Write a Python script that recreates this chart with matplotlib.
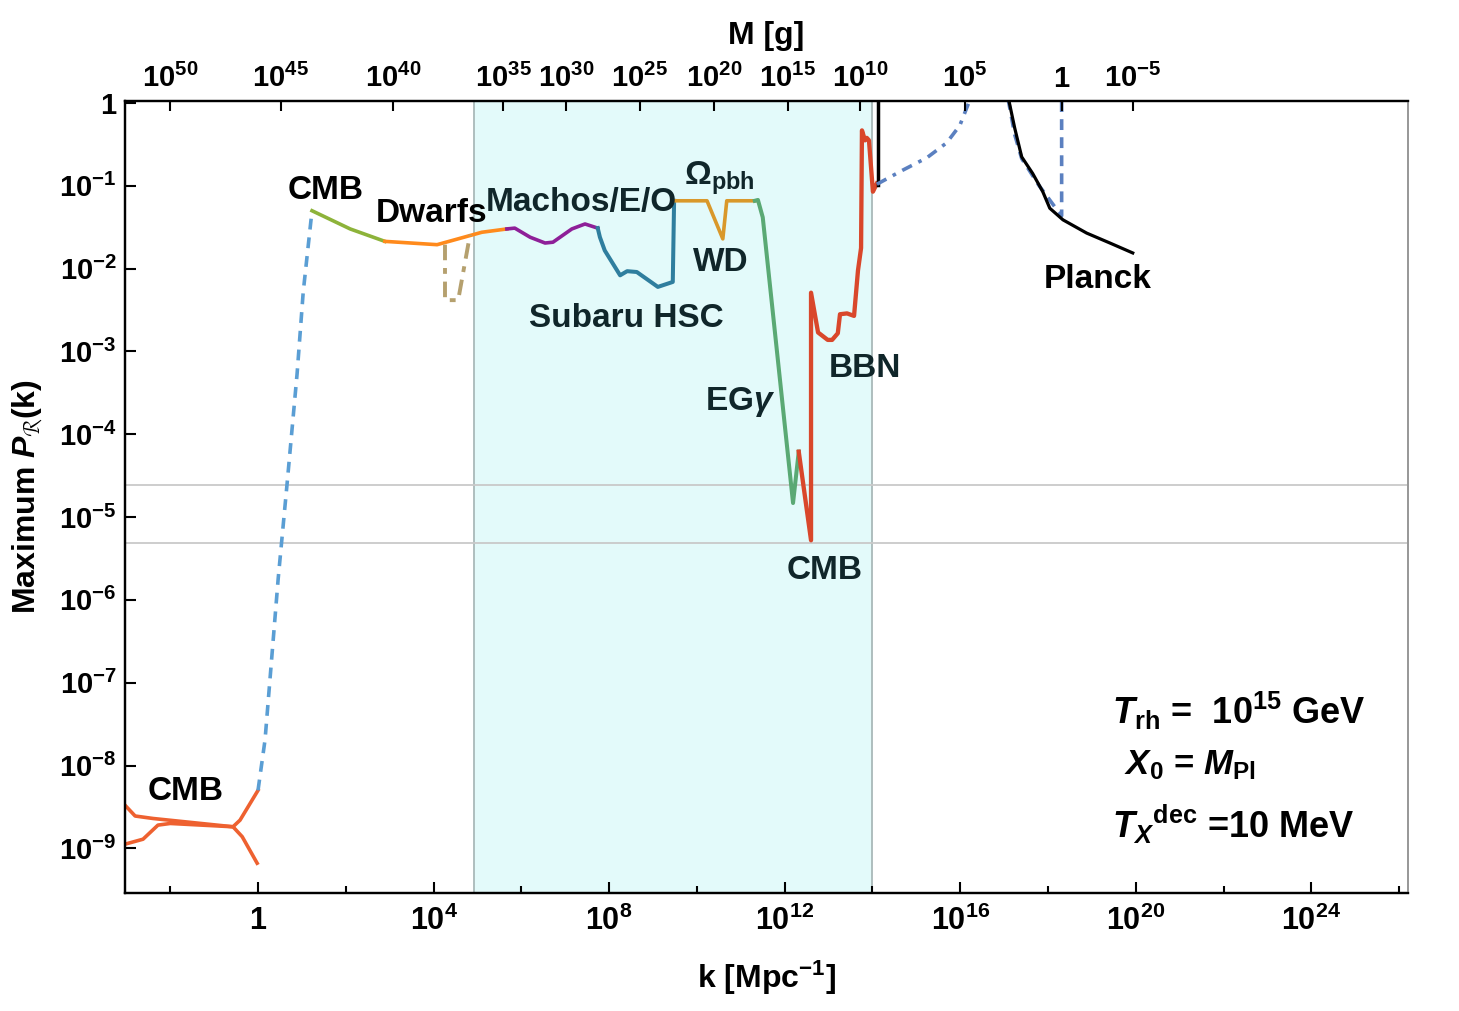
import numpy as np
import matplotlib
matplotlib.use("Agg")
import matplotlib.pyplot as plt
from matplotlib.ticker import FixedLocator, NullLocator, NullFormatter

plt.rcParams['font.family'] = ['Liberation Sans', 'DejaVu Sans']
plt.rcParams['font.weight'] = 'bold'
plt.rcParams['axes.labelweight'] = 'bold'
plt.rcParams['mathtext.fontset'] = 'custom'
plt.rcParams['mathtext.rm'] = 'Liberation Sans'
plt.rcParams['mathtext.bf'] = 'Liberation Sans:bold'
plt.rcParams['mathtext.it'] = 'Liberation Sans:italic'
plt.rcParams['mathtext.bfit'] = 'Liberation Sans:italic:bold'
plt.rcParams['mathtext.default'] = 'bf'

# all values are log10(k / Mpc^-1) and log10(P_R)
cmb_lo_a_lk = [-3.03, -2.80, -2.39, -0.57, -0.41, 0.0]
cmb_lo_a_lp = [-8.48, -8.61, -8.64, -8.74, -8.66, -8.30]
cmb_lo_b_lk = [-3.03, -2.62, -2.28, -2.00, -0.57, -0.36, -0.02]
cmb_lo_b_lp = [-8.95, -8.89, -8.72, -8.70, -8.74, -8.86, -9.18]

rise_lk = [0.0, 0.16, 0.46, 0.66, 0.89, 1.03, 1.23]
rise_lp = [-8.30, -7.69, -5.74, -4.61, -3.27, -2.28, -1.30]

cmb_hi_lk = [1.23, 2.10, 2.89]
cmb_hi_lp = [-1.30, -1.52, -1.67]

dwarf_lk = [2.89, 4.08, 5.10, 5.67]
dwarf_lp = [-1.67, -1.71, -1.56, -1.52]
dwarf_alt_lk = [4.26, 4.26, 4.56, 4.83]
dwarf_alt_lp = [-1.71, -2.38, -2.38, -1.59]

macho_lk = [5.67, 5.85, 6.20, 6.54, 6.72, 7.15, 7.45, 7.74]
macho_lp = [-1.52, -1.51, -1.62, -1.69, -1.68, -1.52, -1.46, -1.51]

hsc_lk = [7.74, 7.79, 7.90, 8.25, 8.41, 8.63, 9.11, 9.45, 9.48]
hsc_lp = [-1.51, -1.62, -1.78, -2.08, -2.03, -2.04, -2.22, -2.16, -1.18]

omega_lk = [9.48, 10.23, 10.59, 10.68, 11.32]
omega_lp = [-1.18, -1.18, -1.64, -1.18, -1.18]

egam_lk = [11.32, 11.39, 11.50, 12.19, 12.32]
egam_lp = [-1.18, -1.17, -1.38, -4.83, -4.21]

bbn_lk = [12.32, 12.60, 12.60, 12.76, 12.98, 13.08, 13.21, 13.26, 13.42, 13.58,
          13.67, 13.74, 13.76, 13.83, 13.87, 13.92, 14.01, 14.10]
bbn_lp = [-4.21, -5.28, -2.29, -2.77, -2.86, -2.86, -2.78, -2.55, -2.54, -2.57,
          -2.02, -1.75, -0.33, -0.45, -0.42, -0.45, -1.07, -0.97]

wall_lk = [14.12, 14.12]
wall_lp = [0.1, -0.99]

dd_lk = [14.10, 14.69, 15.24, 15.69, 15.99, 16.22]
dd_lp = [-0.98, -0.81, -0.66, -0.48, -0.27, 0.04]

dash_r_lk = [17.09, 17.24, 17.40, 17.80, 18.15, 18.31, 18.31]
dash_r_lp = [0.05, -0.38, -0.67, -1.00, -1.25, -1.36, 0.05]

planck_lk = [17.10, 17.24, 17.40, 17.65, 17.88, 18.04, 18.34, 18.88, 19.41, 19.93]
planck_lp = [0.05, -0.30, -0.65, -0.85, -1.07, -1.27, -1.41, -1.57, -1.69, -1.81]

band_lk = [4.92, 13.99]
hline_lp = [-4.61, -5.31]

# top axis: PBH mass labels and the k where they sit
mass_exp = [50, 45, 40, 35, 30, 25, 20, 15, 10, 5, 0, -5]
mass_lk = [-2.00, 0.52, 3.08, 5.58, 7.02, 8.70, 10.39, 12.07, 13.71, 16.10, 18.31, 19.93]


def P(a):
    return 10.0 ** np.array(a)


fig = plt.figure(figsize=(14.59, 10.11), dpi=100)
ax = fig.add_axes([0.0857, 0.1167, 0.8793, 0.7833])
ax.set_xscale('log')
ax.set_yscale('log')
xlim = (10 ** -3.03, 10 ** 26.2)
ax.set_xlim(*xlim)
ax.set_ylim(10 ** -9.54, 10 ** 0.024)

ax.axvspan(P(band_lk[0]), P(band_lk[1]), color='#e3fafa', zorder=0, lw=0)
for b in band_lk:
    ax.axvline(P(b), color='#a9b9b9', lw=1.3, zorder=1)
for h in hline_lp:
    ax.axhline(P(h), color='#c9c9c9', lw=1.3, zorder=1)

lw = 2.6
ax.plot(P(cmb_lo_a_lk), P(cmb_lo_a_lp), color='#ee6130', lw=lw)
ax.plot(P(cmb_lo_b_lk), P(cmb_lo_b_lp), color='#ee6130', lw=lw)
ax.plot(P(rise_lk), P(rise_lp), color='#5a9ed4', lw=lw, ls=(0, (3, 2.2)))
ax.plot(P(cmb_hi_lk), P(cmb_hi_lp), color='#8db33a', lw=lw)
ax.plot(P(dwarf_lk), P(dwarf_lp), color='#ff8a1c', lw=lw)
ax.plot(P(dwarf_alt_lk), P(dwarf_alt_lp), color='#b5a06e', lw=2.8, ls=(0, (4, 2, 1.5, 2)))
ax.plot(P(macho_lk), P(macho_lp), color='#8e1f98', lw=lw)
ax.plot(P(hsc_lk), P(hsc_lp), color='#2f7e9e', lw=2.9)
ax.plot(P(omega_lk), P(omega_lp), color='#d9982a', lw=lw)
ax.plot(P(egam_lk), P(egam_lp), color='#5aa974', lw=2.9)
ax.plot(P(bbn_lk), P(bbn_lp), color='#d9472b', lw=3.1)
ax.plot(P(wall_lk), P(wall_lp), color='black', lw=2.5)
ax.plot(P(dd_lk), P(dd_lp), color='#5b80c0', lw=lw, ls=(0, (3, 2, 1, 2)))
ax.plot(P(dash_r_lk), P(dash_r_lp), color='#5b80c0', lw=lw, ls=(0, (3, 2)))
ax.plot(P(planck_lk), P(planck_lp), color='black', lw=2.3)

# annotations
fs = 24
dark = '#10262a'
ax.text(P(1.53), P(-1.05), 'CMB', fontsize=fs, ha='center', va='center')
ax.text(P(3.96), P(-1.33), 'Dwarfs', fontsize=fs, ha='center', va='center')
ax.text(P(7.36), P(-1.20), 'Machos/E/O', fontsize=fs, ha='center', va='center', color=dark)
ax.text(P(10.52), P(-0.91), r'$\mathrm{\Omega}_{\mathbf{pbh}}$', fontsize=fs, ha='center', va='center',
        color=dark)
ax.text(P(10.55), P(-1.93), 'WD', fontsize=fs, ha='center', va='center', color=dark)
ax.text(P(8.38), P(-2.60), 'Subaru HSC', fontsize=fs, ha='center', va='center', color=dark)
ax.text(P(10.98), P(-3.61), r'EG$\mathit{\gamma}$', fontsize=fs, ha='center', va='center', color=dark)
ax.text(P(13.83), P(-3.21), 'BBN', fontsize=fs, ha='center', va='center', color=dark)
ax.text(P(12.92), P(-5.65), 'CMB', fontsize=fs, ha='center', va='center', color=dark)
ax.text(P(-1.64), P(-8.32), 'CMB', fontsize=fs, ha='center', va='center')
ax.text(P(19.13), P(-2.13), 'Planck', fontsize=fs, ha='center', va='center')

ax.text(0.769, 0.230, r'$\mathbfit{T}_{\mathbf{rh}}$ =  10$^{\mathbf{15}}$ GeV', fontsize=26,
        transform=ax.transAxes, ha='left', va='center')
ax.text(0.779, 0.162, r'$\mathbfit{X}_{\mathbf{0}}$ = $\mathbfit{M}_{\mathbf{Pl}}$', fontsize=25,
        transform=ax.transAxes, ha='left', va='center')
ax.text(0.769, 0.086, r'${\mathbfit{T}_{\mathbfit{X}}}^{\mathbf{dec}}$ =10 MeV', fontsize=26,
        transform=ax.transAxes, ha='left', va='center')

# bottom axis
maj = [4 * i for i in range(0, 7)]
ax.xaxis.set_major_locator(FixedLocator(P(maj)))
ax.xaxis.set_minor_locator(FixedLocator(P([-2, 2, 6, 10, 14, 18, 22, 26])))
ax.xaxis.set_minor_formatter(NullFormatter())
ax.set_xticklabels(['1'] + [r'$10^{%d}$' % m for m in maj[1:]])
ax.yaxis.set_major_locator(FixedLocator(P(list(range(-9, 1)))))
ax.yaxis.set_minor_locator(NullLocator())
ax.set_yticklabels([r'$10^{%d}$' % e if e != 0 else '1' for e in range(-9, 1)])
ax.tick_params(which='both', direction='in', width=1.5, top=False, right=False)
ax.tick_params(axis='x', which='major', length=8, pad=9, labelsize=22)
ax.tick_params(axis='x', which='minor', length=5)
ax.tick_params(axis='y', which='major', length=8, pad=6, labelsize=21)

ax.set_xlabel(r'k [Mpc$^{-1}$]', fontsize=23, labelpad=16)
ax.set_ylabel(r'Maximum $\mathbfit{P}_{\mathcal{R}}$(k)', fontsize=23, labelpad=10)

# top axis in PBH mass
ax2 = ax.twiny()
ax2.set_xscale('log')
ax2.set_xlim(*xlim)
ax2.xaxis.set_major_locator(FixedLocator(P(mass_lk)))
ax2.xaxis.set_minor_locator(NullLocator())
ax2.set_xticklabels([r'$10^{%d}$' % m if m != 0 else '1' for m in mass_exp])
ax2.tick_params(axis='x', direction='in', length=7, width=1.5, labelsize=21, pad=6)
ax2.set_xlabel('M [g]', fontsize=23, labelpad=14)

for a in (ax, ax2):
    for s in ('left', 'bottom', 'top'):
        a.spines[s].set_linewidth(1.6)
        a.spines[s].set_color('black')
    a.spines['right'].set_color('#999999')
    a.spines['right'].set_linewidth(1.3)

fig.savefig('out.png', dpi=100)
